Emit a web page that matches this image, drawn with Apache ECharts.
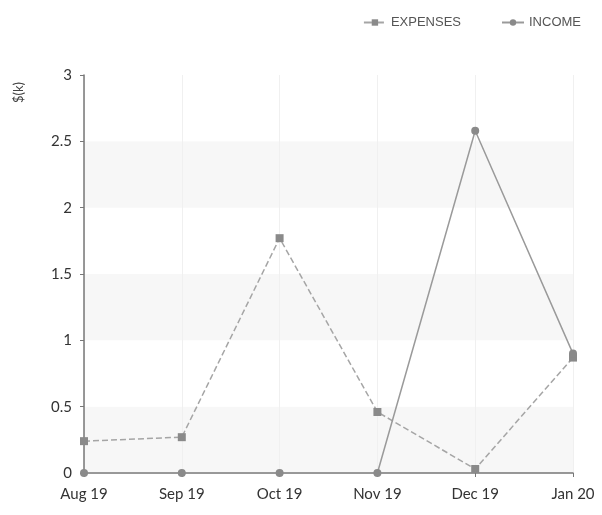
<!DOCTYPE html>
<html>
<head>
<meta charset="utf-8">
<script src="https://cdn.jsdelivr.net/npm/echarts@6/dist/echarts.min.js"></script>
<style>
  html, body { margin: 0; padding: 0; background: #fff; }
  #chart { width: 602px; height: 515px; }
</style>
</head>
<body>
<div id="chart"></div>
<script>
// 月份
const months = ['Aug 19', 'Sep 19', 'Oct 19', 'Nov 19', 'Dec 19', 'Jan 20']
// 支出 / 收入 ($k)
const expenses = [0.24, 0.27, 1.77, 0.46, 0.03, 0.87]
const income = [0, 0, 0, 0, 2.58, 0.9]

const chart = echarts.init(document.getElementById('chart'))
const option = {
  animation: false,
  textStyle: { fontFamily: 'Lato' },
  legend: {
    right: 16,
    top: 11,
    itemWidth: 22,
    itemHeight: 8,
    itemGap: 40,
    textStyle: { color: '#555', fontSize: 13, fontFamily: 'Liberation Sans' },
    data: ['EXPENSES', 'INCOME']
  },
  // y轴名称 $(k)
  graphic: [{
    type: 'text',
    left: 12,
    top: 82,
    rotation: Math.PI / 2,
    style: { text: '$(k)', fill: '#444', fontSize: 13, fontFamily: 'Lato' }
  }],
  grid: { left: 84, right: 29, top: 75, bottom: 42 },
  xAxis: {
    type: 'category',
    data: months,
    boundaryGap: false,
    axisLine: { lineStyle: { color: '#777', width: 1.5 } },
    axisTick: { show: true, length: 4, lineStyle: { color: '#777' } },
    axisLabel: { color: '#333', fontSize: 15, margin: 14 },
    splitLine: { show: true, lineStyle: { color: '#f0f0f0' } }
  },
  yAxis: {
    type: 'value',
    min: 0,
    max: 3,
    interval: 0.5,
    axisLine: { show: true, lineStyle: { color: '#777', width: 1.5 } },
    axisTick: { show: true, length: 4, lineStyle: { color: '#777' } },
    axisLabel: { color: '#333', fontSize: 15, margin: 12 },
    splitLine: { show: false },
    splitArea: { show: true, areaStyle: { color: ['#f7f7f7', '#ffffff'] } }
  },
  series: [
    {
      name: 'EXPENSES',
      type: 'line',
      data: expenses,
      symbol: 'rect',
      symbolSize: 8,
      itemStyle: { color: '#8a8a8a' },
      lineStyle: { color: '#a5a5a5', width: 1.5, type: 'dashed' }
    },
    {
      name: 'INCOME',
      type: 'line',
      data: income,
      symbol: 'circle',
      symbolSize: 8,
      itemStyle: { color: '#8a8a8a' },
      lineStyle: { color: '#9a9a9a', width: 1.5 }
    }
  ]
}
chart.setOption(option)
</script>
</body>
</html>
